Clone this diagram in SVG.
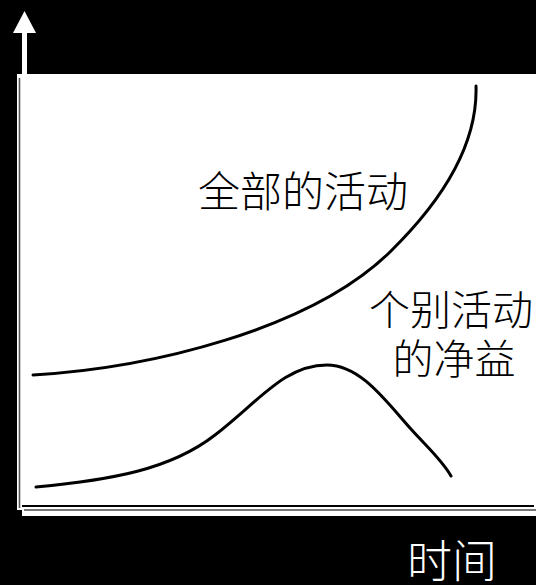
<svg xmlns="http://www.w3.org/2000/svg" width="536" height="585" viewBox="0 0 536 585">
<style>
.curve{fill:none;stroke:#000;stroke-width:3;stroke-linecap:round;stroke-linejoin:round}
.lbl{font-family:"Noto Sans CJK SC","Noto Sans CJK JP",sans-serif;font-weight:300;text-anchor:middle}
</style>
<rect x="0" y="0" width="536" height="585" fill="#000"/>
<g id="plot-area">
<polygon points="17,74 536,74 536,516 22,516 22,510 17,510" fill="#fff"/>
<line x1="19.5" y1="78" x2="19.5" y2="508" stroke="#555" stroke-width="1.6"/>
<line x1="22" y1="506" x2="534" y2="506" stroke="#000" stroke-width="2"/>
<line x1="24" y1="510" x2="536" y2="510" stroke="#777" stroke-width="2"/>
</g>
<g id="y-axis-arrow">
<rect x="22" y="32" width="5" height="43" fill="#fff"/>
<polygon points="13,33 36,33 24.5,11" fill="#fff"/>
</g>
<g id="connectors">
<path id="total-curve" class="curve" d="M33,375 C150,368 310,330 390,252 C435,208 478,150 476,86"/>
<path id="net-curve" class="curve" d="M36,487 C110,480 170,470 215,435 C260,400 285,365 327,365 C360,365 385,400 410,428 C428,448 442,460 451,476"/>
</g>
<g id="label-total">
<text class="lbl" x="303" y="207" font-size="42" fill="#000">全部的活动</text>
</g>
<g id="label-net">
<text class="lbl" x="451" y="325" font-size="41" fill="#000">个别活动</text>
<text class="lbl" x="454" y="374" font-size="41" fill="#000">的净益</text>
</g>
<g id="label-time">
<text class="lbl" x="452" y="578" font-size="45" fill="#fff">时间</text>
</g>
</svg>
